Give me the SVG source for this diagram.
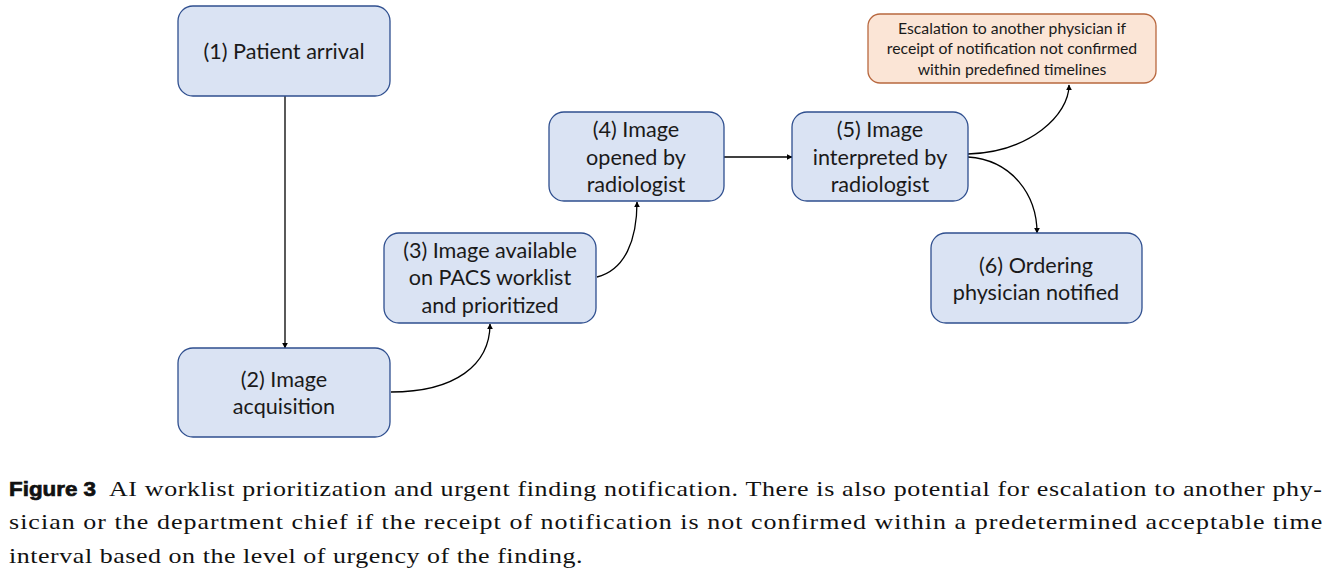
<svg xmlns="http://www.w3.org/2000/svg" width="1330" height="572" viewBox="0 0 1330 572">
<style>
.box{fill:#dae3f3;stroke:#2f4f8f;stroke-width:1.3}
.esc{fill:#fbe5d6;stroke:#b8683f;stroke-width:1.3}
.t{font-family:Lato,"Open Sans",sans-serif;font-size:21.6px;fill:#1a1a1a;text-anchor:middle}
.ts{font-family:Lato,"Open Sans",sans-serif;font-size:15.8px;fill:#1a1a1a;text-anchor:middle}
.c{fill:none;stroke:#000;stroke-width:1.3}
.cap{font-family:"Liberation Serif",serif;font-size:22px;fill:#111}
.fig{font-family:"Liberation Sans",Arial,sans-serif;font-weight:bold;font-size:21px;fill:#111;stroke:#111;stroke-width:0.7}
</style>
<defs>
<marker id="ah" viewBox="0 0 10 10" refX="9" refY="5" markerWidth="6" markerHeight="6" markerUnits="userSpaceOnUse" orient="auto">
<path d="M0,0 L10,5 L0,10 z" fill="#000"/>
</marker>
</defs>
<rect width="1330" height="572" fill="#fff"/>
<g id="connectors">
<path class="c" d="M285,96 L285,348" marker-end="url(#ah)"/>
<path class="c" d="M391,392 C455,392 490,365 490,324" marker-end="url(#ah)"/>
<path class="c" d="M597,277 C625,270 637,240 637,202" marker-end="url(#ah)"/>
<path class="c" d="M724,157 L792,157" marker-end="url(#ah)"/>
<path class="c" d="M968,154 C1030,152 1069,115 1069,85" marker-end="url(#ah)"/>
<path class="c" d="M968,157 C1012,160 1037,195 1037,233" marker-end="url(#ah)"/>
</g>
<g id="n1"><rect class="box" x="178" y="6" width="212" height="90" rx="15"/><text class="t" x="284" y="59">(1) Patient arrival</text></g>
<g id="n2"><rect class="box" x="178" y="348" width="212" height="89" rx="15"/><text class="t" x="284" y="387">(2) Image</text><text class="t" x="284" y="414">acquisition</text></g>
<g id="n3"><rect class="box" x="384" y="233" width="212" height="90" rx="15"/><text class="t" x="490" y="258">(3) Image available</text><text class="t" x="490" y="285">on PACS worklist</text><text class="t" x="490" y="313">and prioritized</text></g>
<g id="n4"><rect class="box" x="549" y="112" width="175" height="89" rx="15"/><text class="t" x="636" y="137">(4) Image</text><text class="t" x="636" y="165">opened by</text><text class="t" x="636" y="192">radiologist</text></g>
<g id="n5"><rect class="box" x="792" y="112" width="176" height="89" rx="15"/><text class="t" x="880" y="137">(5) Image</text><text class="t" x="880" y="165">interpreted by</text><text class="t" x="880" y="192">radiologist</text></g>
<g id="n6"><rect class="box" x="931" y="233" width="211" height="90" rx="15"/><text class="t" x="1036" y="273">(6) Ordering</text><text class="t" x="1036" y="300">physician notified</text></g>
<g id="esc"><rect class="esc" x="868" y="14" width="288" height="69" rx="12"/><text class="ts" x="1012" y="34">Escalation to another physician if</text><text class="ts" x="1012" y="54">receipt of notification not confirmed</text><text class="ts" x="1012" y="75">within predefined timelines</text></g>
<g id="caption">
<text class="fig" x="9" y="496" textLength="87" lengthAdjust="spacingAndGlyphs">Figure 3</text>
<g transform="translate(9,0) scale(1.18,1)">
<text class="cap" x="84.7" y="496" textLength="1028" lengthAdjust="spacing">AI worklist prioritization and urgent finding notification. There is also potential for escalation to another phy-</text>
<text class="cap" x="0" y="529.5" textLength="1113" lengthAdjust="spacing">sician or the department chief if the receipt of notification is not confirmed within a predetermined acceptable time</text>
<text class="cap" x="0" y="563" textLength="486" lengthAdjust="spacing">interval based on the level of urgency of the finding.</text>
</g>
</g>
</svg>
